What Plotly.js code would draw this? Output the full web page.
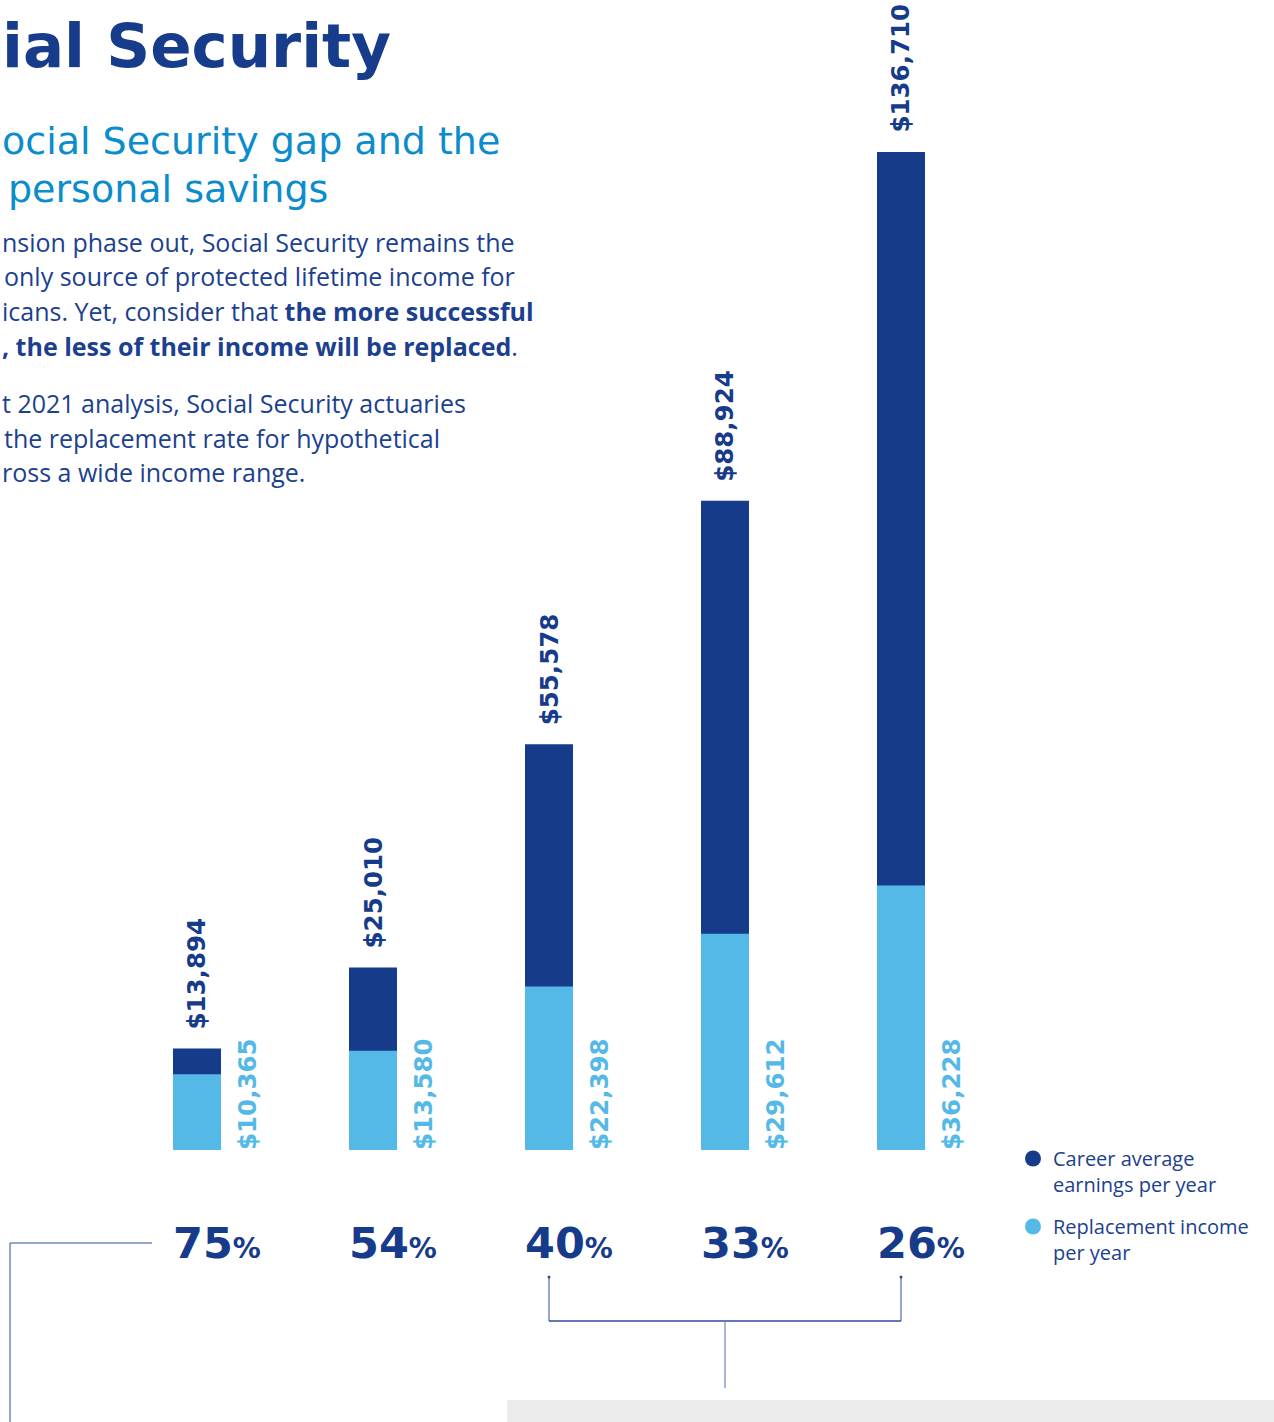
<!DOCTYPE html>
<html>
<head>
<meta charset="utf-8">
<script src="https://cdn.plot.ly/plotly-3.0.1.min.js"></script>
<style>
html,body{margin:0;padding:0;background:#ffffff;}
#chart{width:1274px;height:1422px;}
</style>
</head>
<body>
<div id="chart"></div>
<script>
// ---- Data ----
const categories = ["Very low", "Low", "Medium", "High", "Maximum"];
const careerEarnings = [13894, 25010, 55578, 88924, 136710];
const replacementIncome = [10365, 13580, 22398, 29612, 36228];
const replacementRate = [75, 54, 40, 33, 26];
const seriesNames = ["Career average<br>earnings per year", "Replacement income<br>per year"];

// ---- Styling ----
const W = 1274, H = 1422;
const NAVY = "#163b8a";
const LIGHT = "#55b9e8";
const SUB = "#0b8ccd";
const TEXT = "#1c3f8f";
const BASE_PX = 1150;        // pixel row of the zero line
const PX_PER_UNIT = 0.0073;  // vertical pixels per dollar
const BAR_PX = 176;          // pixel distance between bars
const FIRST_PX = 197;        // pixel column of first bar centre

const px = x => x / W;
const py = y => 1 - y / H;
const fmt = v => "$" + v.toLocaleString("en-US");

const traces = [
  {
    type: "bar", x: categories, y: careerEarnings, name: seriesNames[0],
    marker: {color: NAVY}, width: 48 / BAR_PX, showlegend: false, hoverinfo: "skip"
  },
  {
    type: "bar", x: categories, y: replacementIncome, name: seriesNames[1],
    marker: {color: LIGHT}, width: 48 / BAR_PX, showlegend: false, hoverinfo: "skip"
  },
  {
    type: "scatter", mode: "markers", x: [null], y: [null], name: seriesNames[0],
    marker: {color: NAVY, size: 18, symbol: "circle"}, legendgroup: "a", showlegend: true
  },
  {
    type: "scatter", mode: "markers", x: [null], y: [null], name: seriesNames[1],
    marker: {color: LIGHT, size: 18, symbol: "circle"}, legendgroup: "b", showlegend: true
  }
];

const annotations = [];
const numFont = {family: "DejaVu Sans", size: 24.5, weight: 700};

categories.forEach((c, i) => {
  annotations.push({
    x: c, y: careerEarnings[i], xref: "x", yref: "y",
    text: fmt(careerEarnings[i]), textangle: -90, showarrow: false,
    xanchor: "center", yanchor: "bottom", yshift: 17,
    font: Object.assign({}, numFont, {color: NAVY})
  });
  annotations.push({
    x: c, y: 0, xref: "x", yref: "y",
    text: fmt(replacementIncome[i]), textangle: -90, showarrow: false,
    xanchor: "center", yanchor: "bottom", xshift: 50, yshift: -2,
    font: Object.assign({}, numFont, {color: LIGHT})
  });
  annotations.push({
    x: c, y: py(1243), xref: "x", yref: "paper",
    text: replacementRate[i] + "<span style='font-size:28px'>%</span>",
    showarrow: false, xanchor: "left", yanchor: "middle", xshift: -26,
    font: {family: "DejaVu Sans", size: 43, weight: 700, color: NAVY}
  });
});

function txt(t, x, y, size, color, family, weight) {
  annotations.push({
    x: px(x), y: py(y), xref: "paper", yref: "paper", text: t, showarrow: false,
    xanchor: "left", yanchor: "middle", align: "left",
    font: {family: family, size: size, color: color, weight: weight || 400}
  });
}

txt("ial Security", 0, 46, 61, "#173c8b", "DejaVu Sans", 700);
txt("ocial Security gap and the", 0, 141, 38, SUB, "DejaVu Sans", 400);
txt("personal savings", 6, 189, 38, SUB, "DejaVu Sans", 400);

const bodyFont = "Open Sans";
txt("nsion phase out, Social Security remains the", 0, 242, 25, TEXT, bodyFont);
txt("only source of protected lifetime income for", 2, 276, 25, TEXT, bodyFont);
txt("icans. Yet, consider that <b>the more successful</b>", 0, 311, 25, TEXT, bodyFont);
txt("<b>, the less of their income will be replaced</b>.", 0, 346, 25, TEXT, bodyFont);
txt("t 2021 analysis, Social Security actuaries", 0, 403, 25, TEXT, bodyFont);
txt("the replacement rate for hypothetical", 2, 438, 25, TEXT, bodyFont);
txt("ross a wide income range.", 0, 472, 25, TEXT, bodyFont);

const LINEC = "#2f4e97";
const shapes = [
  // grey panel at bottom
  {type: "rect", xref: "paper", yref: "paper", x0: px(507), x1: 1, y0: 0, y1: py(1400),
   fillcolor: "#ebebeb", line: {width: 0}, layer: "below"},
  // left bracket
  {type: "line", xref: "paper", yref: "paper", x0: px(10), x1: px(152), y0: py(1243), y1: py(1243),
   line: {color: LINEC, width: 1}},
  {type: "line", xref: "paper", yref: "paper", x0: px(10), x1: px(10), y0: py(1243), y1: 0,
   line: {color: LINEC, width: 1}},
  // right bracket spanning bars 3..5
  {type: "line", xref: "x", yref: "paper", x0: 2, x1: 2, y0: py(1277), y1: py(1321),
   line: {color: LINEC, width: 1}},
  {type: "line", xref: "x", yref: "paper", x0: 4, x1: 4, y0: py(1277), y1: py(1321),
   line: {color: LINEC, width: 1}},
  {type: "line", xref: "x", yref: "paper", x0: 2, x1: 4, y0: py(1321), y1: py(1321),
   line: {color: LINEC, width: 1.3}},
  {type: "line", xref: "x", yref: "paper", x0: 3, x1: 3, y0: py(1321), y1: py(1388),
   line: {color: "#6f85b9", width: 1.2}},
  {type: "circle", xref: "x", yref: "paper", xsizemode: "pixel", ysizemode: "pixel",
   xanchor: 2, yanchor: py(1277), x0: -1.5, x1: 1.5, y0: -1.5, y1: 1.5,
   fillcolor: LINEC, line: {width: 0}},
  {type: "circle", xref: "x", yref: "paper", xsizemode: "pixel", ysizemode: "pixel",
   xanchor: 4, yanchor: py(1277), x0: -1.5, x1: 1.5, y0: -1.5, y1: 1.5,
   fillcolor: LINEC, line: {width: 0}}
];

const layout = {
  width: W, height: H,
  margin: {l: 0, r: 0, t: 0, b: 0, pad: 0},
  paper_bgcolor: "#ffffff", plot_bgcolor: "rgba(0,0,0,0)",
  barmode: "overlay",
  xaxis: {
    type: "category", visible: false, fixedrange: true,
    range: [-FIRST_PX / BAR_PX, (W - FIRST_PX) / BAR_PX]
  },
  yaxis: {
    visible: false, fixedrange: true, domain: [0, 1],
    range: [(BASE_PX - H) / PX_PER_UNIT, BASE_PX / PX_PER_UNIT]
  },
  showlegend: true,
  legend: {
    x: px(1013), y: py(1139), xanchor: "left", yanchor: "top",
    bgcolor: "rgba(0,0,0,0)", borderwidth: 0, valign: "top",
    tracegroupgap: 13,
    font: {family: "Open Sans", size: 20, color: TEXT}
  },
  annotations: annotations,
  shapes: shapes
};

Plotly.newPlot("chart", traces, layout, {displayModeBar: false, staticPlot: true});
</script>
</body>
</html>
